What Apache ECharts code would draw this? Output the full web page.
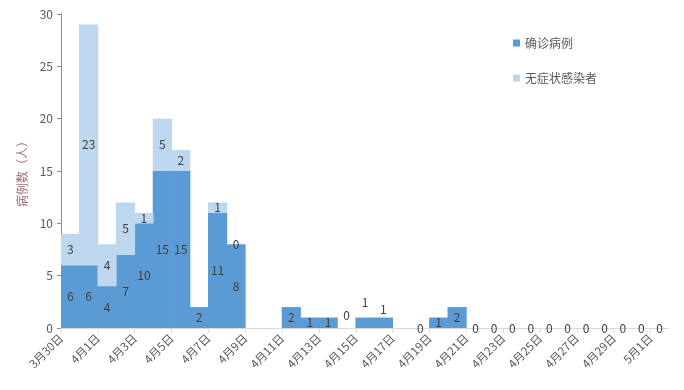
<!DOCTYPE html>
<html>
<head>
<meta charset="utf-8">
<script src="https://cdn.jsdelivr.net/npm/echarts@6/dist/echarts.min.js"></script>
<style>html,body{margin:0;padding:0;background:#fff}#c{width:684px;height:390px}</style>
</head>
<body>
<div id="c"></div>
<script>
var categories = ['3月30日','3月31日','4月1日','4月2日','4月3日','4月4日','4月5日','4月6日','4月7日','4月8日','4月9日','4月10日','4月11日','4月12日','4月13日','4月14日','4月15日','4月16日','4月17日','4月18日','4月19日','4月20日','4月21日','4月22日','4月23日','4月24日','4月25日','4月26日','4月27日','4月28日','4月29日','4月30日','5月1日'];
var confirmed = [6,6,4,7,10,15,15,2,11,8,null,null,2,1,1,0,1,1,null,0,1,2,0,0,0,0,0,0,0,0,0,0,0];
var asymptomatic = [3,23,4,5,1,5,2,null,1,0,null,null,null,null,null,null,null,null,null,null,null,null,null,null,null,null,null,null,null,null,null,null,null];
var yTicks = {min: 0, max: 30, interval: 5};
var tickLabels = categories.concat(['']);

var labelOffsets = {15: -13, 16: -20, 17: -13};

var font = '"Noto Sans CJK SC", "Noto Sans", sans-serif';
var confData = confirmed.map(function (v, i) {
  var item = {value: v};
  if (labelOffsets[i] !== undefined) item.label = {offset: [0, labelOffsets[i]]};
  return item;
});

var chart = echarts.init(document.getElementById('c'));
chart.setOption({
  animation: false,
  textStyle: {fontFamily: font},
  grid: {left: 61, right: 15, top: 14, bottom: 62, containLabel: false},
  legend: {
    orient: 'vertical', left: 508, top: 32, itemWidth: 7, itemHeight: 7, itemGap: 23,
    icon: 'rect',
    textStyle: {color: '#595959', fontSize: 12, fontFamily: font},
    data: ['确诊病例', '无症状感染者']
  },
  xAxis: [{
    type: 'category', data: categories, boundaryGap: true,
    axisLine: {show: true, lineStyle: {color: '#D9D9D9'}},
    axisTick: {show: false}, axisLabel: {show: false}
  }, {
    type: 'category', data: tickLabels, boundaryGap: false, position: 'bottom',
    axisLine: {show: true, lineStyle: {color: '#D9D9D9'}},
    axisTick: {show: true, interval: 1, length: 5, lineStyle: {color: '#D9D9D9'}},
    axisLabel: {interval: 1, rotate: 45, color: '#595959', fontSize: 11.5, margin: 8, fontFamily: font}
  }],
  yAxis: {
    type: 'value', min: yTicks.min, max: yTicks.max, interval: yTicks.interval,
    name: '病例数（人）', nameLocation: 'middle', nameGap: 32, nameRotate: 90,
    nameTextStyle: {color: '#9E6E70', fontSize: 12, fontFamily: font},
    axisLine: {show: true, lineStyle: {color: '#5B9BD5'}},
    axisTick: {show: true, length: 4, lineStyle: {color: '#5B9BD5'}},
    axisLabel: {color: '#595959', fontSize: 12, margin: 8, fontFamily: font},
    splitLine: {show: false}
  },
  series: [{
    name: '确诊病例', type: 'bar', stack: 'a', xAxisIndex: 0, barWidth: 19.2, barGap: '-100%',
    itemStyle: {color: '#5B9BD5'},
    label: {show: true, position: 'inside', color: '#404040', fontSize: 12, fontFamily: font},
    data: confData
  }, {
    name: '无症状感染者', type: 'bar', stack: 'a', xAxisIndex: 0, barWidth: 19.2, barGap: '-100%',
    itemStyle: {color: '#BDD7EE'},
    label: {show: true, position: 'inside', color: '#404040', fontSize: 12, fontFamily: font},
    data: asymptomatic
  }]
});
</script>
</body>
</html>
